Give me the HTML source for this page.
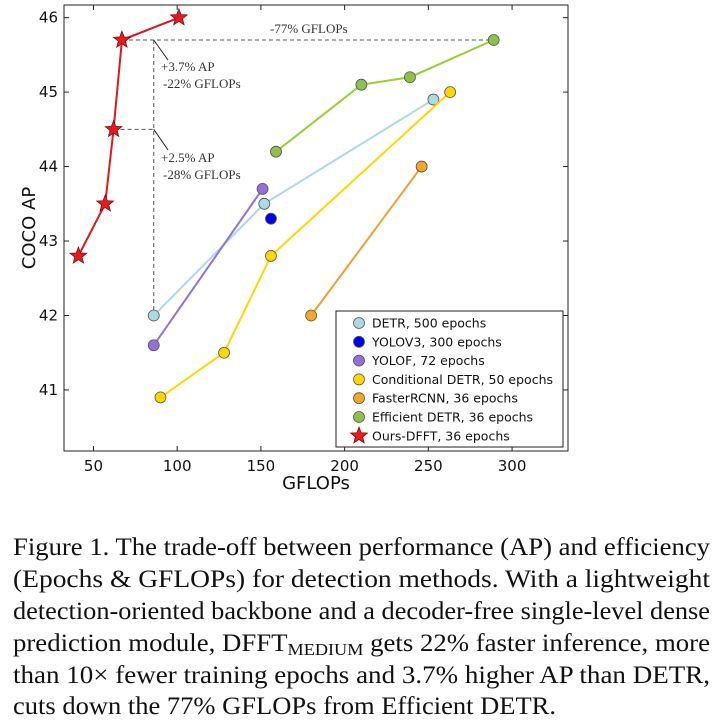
<!DOCTYPE html>
<html><head><meta charset="utf-8"><style>
html,body{margin:0;padding:0;background:#fff;width:725px;height:723px;overflow:hidden}
svg text{font-family:"DejaVu Sans","Liberation Sans",sans-serif}
.cap{font-family:"Liberation Serif",serif;font-size:25px;fill:#111}
.ann{font-family:"Liberation Serif",serif;font-size:13px;fill:#333}
</style></head><body>
<svg id="chart" width="725" height="723">
<g id="plot"></g>
<g>
<text class="cap" x="13" y="555" textLength="697" lengthAdjust="spacingAndGlyphs">Figure 1. The trade-off between performance (AP) and efficiency</text>
<text class="cap" x="13" y="587" textLength="697" lengthAdjust="spacingAndGlyphs">(Epochs &amp; GFLOPs) for detection methods.  With a lightweight</text>
<text class="cap" x="13" y="619" textLength="697" lengthAdjust="spacingAndGlyphs">detection-oriented backbone and a decoder-free single-level dense</text>
<text class="cap" x="13" y="651" textLength="697" lengthAdjust="spacingAndGlyphs">prediction module, DFFT<tspan font-size="17" dy="4">MEDIUM</tspan><tspan dy="-4"> gets 22% faster inference, more</tspan></text>
<text class="cap" x="13" y="683" textLength="697" lengthAdjust="spacingAndGlyphs">than 10× fewer training epochs and 3.7% higher AP than DETR,</text>
<text class="cap" x="13" y="714" textLength="543" lengthAdjust="spacingAndGlyphs">cuts down the 77% GFLOPs from Efficient DETR.</text>
</g>
</svg>
<script>
const seriesNames=["DETR, 500 epochs","YOLOV3, 300 epochs","YOLOF, 72 epochs","Conditional DETR, 50 epochs","FasterRCNN, 36 epochs","Efficient DETR, 36 epochs","Ours-DFFT, 36 epochs"];
const seriesColors=["#add8e6","#0000ee","#9370db","#ffd700","#f5a623","#8bc34a","#e41a1c"];
const lineColors=["#add8e6","#0000ee","#9370db","#ffd700","#f0a030","#9acd32","#e0181c"];
const detrX=[86,152,253], detrY=[42.0,43.5,44.9];
const yolov3X=[156], yolov3Y=[43.3];
const yolofX=[86,151], yolofY=[41.6,43.7];
const condX=[90,128,156,263], condY=[40.9,41.5,42.8,45.0];
const fasterX=[180,246], fasterY=[42.0,44.0];
const effX=[159,210,239,289], effY=[44.2,45.1,45.2,45.7];
const oursX=[41,57,62,67,101], oursY=[42.8,43.5,44.5,45.7,46.0];
const xTicks=[50,100,150,200,250,300];
const yTicks=[41,42,43,44,45,46];
const NS="http://www.w3.org/2000/svg";
const L=64,R=568,T=5,B=451,xmin=32.4,xmax=333.4,ymin=40.18,ymax=46.17;
const sx=v=>L+(v-xmin)/(xmax-xmin)*(R-L);
const sy=v=>B-(v-ymin)/(ymax-ymin)*(B-T);
const g=document.getElementById('plot');
function mk(tag,at,parent){const e=document.createElementNS(NS,tag);for(const k in at)e.setAttribute(k,at[k]);(parent||g).appendChild(e);return e;}
let e=mk('rect',{x:L,y:T,width:R-L,height:B-T,fill:'none',stroke:'#222','stroke-width':1});


xTicks.forEach(t=>{const x=sx(t);mk('line',{x1:x,x2:x,y1:B,y2:B-5,stroke:'#222'});mk('line',{x1:x,x2:x,y1:T,y2:T+5,stroke:'#222'});
 const tx=mk('text',{x:x,y:B+20,'text-anchor':'middle','font-size':15,fill:'#111'});tx.textContent=t;
 
 });
yTicks.forEach(t=>{const y=sy(t);mk('line',{x1:L,x2:L+5,y1:y,y2:y,stroke:'#222'});mk('line',{x1:R,x2:R-5,y1:y,y2:y,stroke:'#222'});
 const tx=mk('text',{x:L-6,y:y+5,'text-anchor':'end','font-size':15,fill:'#111'});tx.textContent=t;
 
 });
let xt=mk('text',{x:316,y:489,'text-anchor':'middle','font-size':18,fill:'#111'});xt.textContent='GFLOPs';


let yt=mk('text',{x:0,y:0,'text-anchor':'middle','font-size':18,fill:'#111',transform:'translate(35,228) rotate(-90)'});yt.textContent='COCO AP';


const d={stroke:'#555','stroke-dasharray':'4,3','stroke-width':1,fill:'none'};
mk('line',Object.assign({x1:sx(oursX[3]),x2:sx(effX[3]),y1:sy(oursY[3]),y2:sy(oursY[3])},d));
mk('line',Object.assign({x1:sx(oursX[2]),x2:sx(detrX[0]),y1:sy(oursY[2]),y2:sy(oursY[2])},d));
mk('line',Object.assign({x1:sx(detrX[0]),x2:sx(detrX[0]),y1:sy(oursY[3]),y2:sy(detrY[0])},d));
mk('line',{x1:sx(detrX[0]),y1:sy(oursY[3]),x2:168,y2:60,stroke:'#222'});
mk('line',{x1:sx(detrX[0]),y1:sy(oursY[2]),x2:168,y2:150,stroke:'#222'});
[['+3.7% AP',161,71],[' -22% GFLOPs',163,88],['+2.5% AP',161,162],[' -28% GFLOPs',163,179],['-77% GFLOPs',270,33]].forEach(a=>{const t=mk('text',{x:a[1],y:a[2],class:'ann'});t.textContent=a[0];
 
 });
function star(cx,cy,r,color,parent){let p='';for(let i=0;i<10;i++){const rr=i%2?r*0.42:r;const a=-Math.PI/2+i*Math.PI/5;p+=(i?'L':'M')+(cx+rr*Math.cos(a)).toFixed(1)+','+(cy+rr*Math.sin(a)).toFixed(1);}return mk('path',{d:p+'Z',fill:color,stroke:'#600','stroke-width':0.6},parent);}
const all=[[detrX,detrY],[yolov3X,yolov3Y],[yolofX,yolofY],[condX,condY],[fasterX,fasterY],[effX,effY],[oursX,oursY]];
all.forEach((s,i)=>{const sg=mk('g',{});
 
 
 if(s[0].length>1){mk('polyline',{points:s[0].map((x,j)=>sx(x)+','+sy(s[1][j])).join(' '),fill:'none',stroke:lineColors[i],'stroke-width':2},sg);}
 s[0].forEach((x,j)=>{let m;if(i===6)m=star(sx(x),sy(s[1][j]),9,seriesColors[i],sg);else m=mk('circle',{cx:sx(x),cy:sy(s[1][j]),r:5.5,fill:seriesColors[i],stroke:'#555','stroke-width':0.8},sg);
  
  });});
const lg=mk('g',{});


mk('rect',{x:336,y:311,width:227,height:136,fill:'#fff',stroke:'#222'},lg);
seriesNames.forEach((n,i)=>{const y=323+i*18.8;
 if(i===6)star(359,y,9,seriesColors[i],lg);else mk('circle',{cx:359,cy:y,r:5.5,fill:seriesColors[i],stroke:'#555','stroke-width':0.8},lg);
 const t=mk('text',{x:372,y:y+4.5,'font-size':12.5,fill:'#111'},lg);t.textContent=n;
 
 });
</script>
</body></html>
